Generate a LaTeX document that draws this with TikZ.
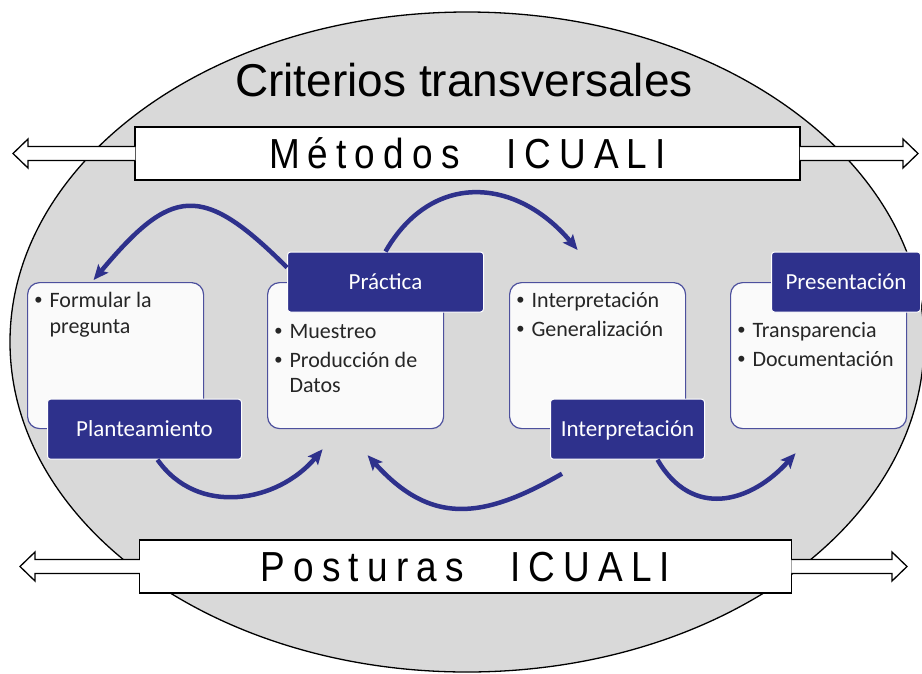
\documentclass[tikz,border=0pt]{standalone}
\usepackage{graphicx}
\usepackage{fontspec}
\setmainfont{Carlito}
\newfontfamily\titulofont{Liberation Sans}
\newfontfamily\bandafont[LetterSpace=22]{Liberation Sans}
\usetikzlibrary{arrows.meta}

\definecolor{azul}{RGB}{46,49,140}
\definecolor{fondo}{RGB}{217,217,217}
\definecolor{texto}{RGB}{38,38,38}

\newcommand{\punto}[1]{\par\noindent\hangindent=15pt\hangafter=1\makebox[15pt][l]{\titulofont\textbullet}#1}
\newcommand{\lista}[2]{\parbox[t][132pt][t]{162pt}{\raggedright\fontsize{22}{25.5}\selectfont\setlength{\parskip}{3pt}\vspace*{#1}#2}}
\newcommand{\bandtext}[2]{\scalebox{0.88}[1]{\bandafont\fontsize{42}{42}\selectfont #1\hspace{53pt}#2}}

\tikzset{
  caja/.style={draw=azul!85, line width=1.2pt, fill=white!98!black, rounded corners=12pt,
    minimum width=176pt, minimum height=146pt, inner sep=7pt, anchor=north west, text=texto},
  etiqueta/.style={fill=azul, draw=white, line width=1pt, rounded corners=3pt, text=white,
    font=\fontsize{23}{23}\selectfont, minimum height=60pt, inner sep=0pt,
    text height=14pt, text depth=0pt, anchor=west},
  banda/.style={draw=black, line width=1.5pt, fill=white, minimum height=53pt,
    text height=30pt, text depth=0pt, inner sep=0pt},
  flechona/.style={draw=black, fill=white, line width=1.3pt, line join=miter},
  flecha/.style={draw=azul, line width=4.5pt, -{Stealth[length=15pt, width=13pt, inset=3pt]}}
}

\begin{document}
\begin{tikzpicture}[x=1pt, y=1pt]
  \useasboundingbox (0,0) rectangle (922,-673);
  \filldraw[fill=fondo, draw=black, line width=1.3pt] (467,-342) ellipse [x radius=457, y radius=330];

  \node[font=\titulofont\fontsize{46}{46}\selectfont, text height=33pt, text depth=0pt, inner sep=0pt]
    (titulo) at (464,-80) {Criterios transversales};

  \node[banda, minimum width=665pt] (metodos) at (467.5,-153.5) {\bandtext{M\'etodos}{ICUALI}};
  \node[banda, minimum width=652pt] (posturas) at (465.5,-566.5) {\bandtext{Posturas}{ICUALI}};

  \filldraw[flechona] ([xshift=1pt,yshift=7pt]metodos.west) -- (28,-146.5) -- (28,-139) -- (13,-153.5)
    -- (28,-168) -- (28,-160.5) -- ([xshift=1pt,yshift=-7pt]metodos.west);
  \filldraw[flechona] ([xshift=-1pt,yshift=7pt]metodos.east) -- (903,-146.5) -- (903,-139) -- (918,-153.5)
    -- (903,-168) -- (903,-160.5) -- ([xshift=-1pt,yshift=-7pt]metodos.east);
  \filldraw[flechona] ([xshift=1pt,yshift=7pt]posturas.west) -- (35,-559.5) -- (35,-552) -- (20,-566.5)
    -- (35,-581) -- (35,-573.5) -- ([xshift=1pt,yshift=-7pt]posturas.west);
  \filldraw[flechona] ([xshift=-1pt,yshift=7pt]posturas.east) -- (892,-559.5) -- (892,-552) -- (907,-566.5)
    -- (892,-581) -- (892,-573.5) -- ([xshift=-1pt,yshift=-7pt]posturas.east);

  \node[caja] (plant) at (27,-282) {\lista{0pt}{\punto{Formular la\newline pregunta}}};
  \node[caja] (prac) at (267,-282) {\lista{32pt}{\punto{Muestreo}\punto{Producci\'on de\newline Datos}}};
  \node[caja] (interp) at (509,-282) {\lista{0pt}{\punto{Interpretaci\'on}\punto{Generalizaci\'on}}};
  \node[caja] (pres) at (730,-282) {\lista{30pt}{\punto{Transparencia}\punto{Documentaci\'on}}};

  \node[etiqueta, minimum width=194pt] (plantlbl) at ([xshift=20pt]plant.south west) {Planteamiento};
  \node[etiqueta, minimum width=196pt] (praclbl) at ([xshift=20pt]prac.north west) {Pr\'actica};
  \node[etiqueta, minimum width=154pt] (interplbl) at ([xshift=41pt]interp.south west) {Interpretaci\'on};
  \node[etiqueta, minimum width=149pt] (preslbl) at ([xshift=41pt]pres.north west) {Presentaci\'on};

  \draw[flecha] ([yshift=-16pt]praclbl.north west) to[out=135, in=50, looseness=1.6] ([xshift=-22pt,yshift=2pt]plant.north);
  \draw[flecha] (praclbl.north) to[out=60, in=130, looseness=1.25] ([xshift=-20pt,yshift=32pt]interp.north);
  \draw[flecha] ([xshift=13pt]plantlbl.south) to[out=-55, in=230, looseness=1.08] ([xshift=-33pt,yshift=-20pt]prac.south);
  \draw[flecha] ([xshift=12pt,yshift=-14pt]interplbl.south west) to[out=210, in=-48, looseness=1.22] ([xshift=12pt,yshift=-26pt]prac.south);
  \draw[flecha] ([xshift=30pt]interplbl.south) to[out=-60, in=228, looseness=1.26] ([xshift=-23pt,yshift=-24pt]pres.south);
\end{tikzpicture}
\end{document}
